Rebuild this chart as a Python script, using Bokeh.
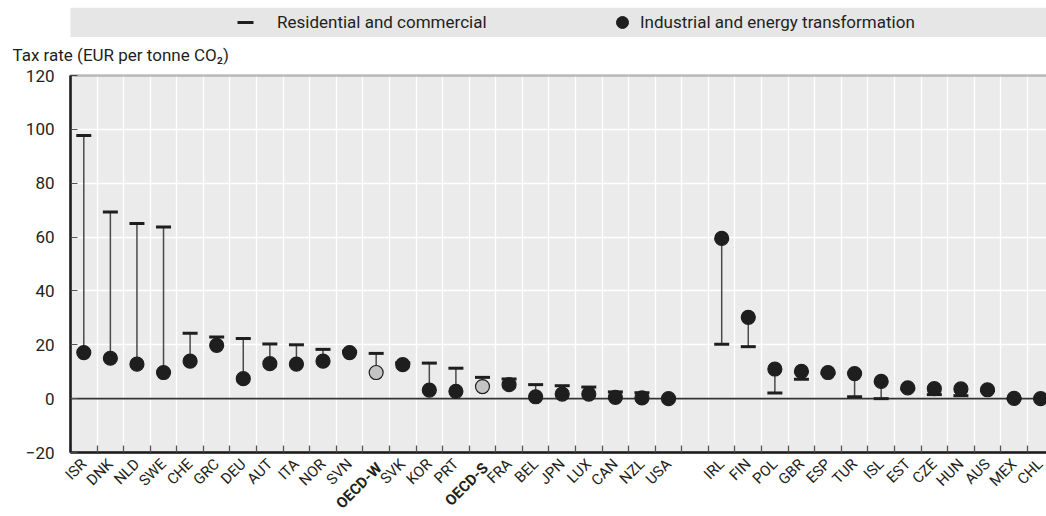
import math
from bokeh.plotting import figure
from bokeh.models import (FixedTicker, Legend, LegendItem, Range1d, ColumnDataSource,
                          BoxAnnotation)
from bokeh.core.properties import value
from bokeh.layouts import column
from bokeh.embed import file_html
from bokeh.resources import INLINE

# ---------------- data ----------------
group1 = ["ISR", "DNK", "NLD", "SWE", "CHE", "GRC", "DEU", "AUT", "ITA", "NOR", "SVN",
          "OECD-W", "SVK", "KOR", "PRT", "OECD-S", "FRA", "BEL", "JPN", "LUX", "CAN",
          "NZL", "USA"]
residential1 = [97.7, 69.3, 65.0, 63.7, 24.3, 22.9, 22.3, 20.3, 20.0, 18.3, 17.6,
                16.8, 13.3, 13.2, 11.3, 7.9, 7.3, 5.2, 4.8, 4.3, 2.5, 2.2, 0.0]
industrial1 = [17.1, 15.0, 12.8, 9.7, 13.9, 19.8, 7.4, 13.0, 12.8, 13.9, 17.1,
               9.7, 12.6, 3.2, 2.7, 4.5, 5.2, 0.7, 1.7, 1.7, 0.5, 0.25, 0.0]

group2 = ["IRL", "FIN", "POL", "GBR", "ESP", "TUR", "ISL", "EST", "CZE", "HUN", "AUS",
          "MEX", "CHL"]
residential2 = [20.2, 19.3, 2.1, 7.2, 9.4, 0.7, 0.0, 3.6, 1.5, 1.1, 3.0, 0.0, 0.0]
industrial2 = [59.5, 30.2, 11.0, 10.1, 9.7, 9.3, 6.4, 4.0, 3.7, 3.6, 3.3, 0.1, 0.0]

aggregates = ["OECD-W", "OECD-S"]
y_ticks = [-20, 0, 20, 40, 60, 80, 100, 120]
y_title = "Tax rate (EUR per tonne CO\u2082)"
legend_labels = ["Residential and commercial", "Industrial and energy transformation"]

# ---------------- styling / layout ----------------
FONT = "Roboto"
TXT = "#231f20"
DARK = "#1e1e1e"
BG = "#ebebeb"

FIG_W = 1046
LEG_H = 37          # legend strip height
MAIN_H = 478        # main figure height
MAIN_TOP = 29       # border above the frame
TOP_PAD = 9         # white pixels inside the frame above the grey area (room for "120")
PLOT_LEFT = 70      # pixel x of the grey plotting area's left edge
PLOT_PX = 377       # pixel height of the grey plotting area (y_ticks[0]..y_ticks[-1])

# positions: one empty slot between the two groups
x1 = list(range(len(group1)))
x2 = [len(group1) + 1 + i for i in range(len(group2))]
names = group1 + group2
xs = x1 + x2
res = residential1 + residential2
ind = industrial1 + industrial2
fills = ["#c4c4c4" if n in aggregates else DARK for n in names]
n_slots = len(group1) + 1 + len(group2)
boundaries = [k + 0.5 for k in range(-1, n_slots)]

src = ColumnDataSource(dict(x=xs, res=res, ind=ind, name=names, fill=fills))
src_agg = ColumnDataSource(dict(x=[x for x, n in zip(xs, names) if n in aggregates],
                                name=[n for n in names if n in aggregates]))

# ---------------- legend strip ----------------
lg = figure(width=FIG_W, height=LEG_H, output_backend="svg", toolbar_location=None,
            x_range=Range1d(0, FIG_W), y_range=Range1d(0, 1),
            x_axis_location=None, y_axis_location=None,
            min_border_left=0, min_border_right=0, min_border_top=7, min_border_bottom=0,
            background_fill_color="white", outline_line_color=None, border_fill_color="white")
lg.grid.visible = False
lg.add_layout(BoxAnnotation(left=PLOT_LEFT, fill_color="#e6e6e6", fill_alpha=1,
                            line_color=None, level="image"))
r_dash = lg.scatter(x="x", y="res", source=src, marker="dash", size=15, line_width=3,
                    line_color=DARK, visible=False)
r_dot = lg.scatter(x="x", y="ind", source=src, marker="circle", size=14, fill_color=DARK,
                   line_color=DARK, visible=False)

for item_label, rend, loc, gsize, stand in [(legend_labels[0], r_dash, (225, -5), 40, 12),
                                            (legend_labels[1], r_dot, (607, 0), 30, 3)]:
    leg = Legend(items=[LegendItem(label=item_label, renderers=[rend])],
                 location=loc, orientation="horizontal",
                 glyph_width=gsize, glyph_height=gsize, label_standoff=stand,
                 padding=0, margin=0, spacing=0,
                 background_fill_alpha=0, border_line_color=None,
                 inactive_fill_alpha=0,
                 label_text_font=FONT, label_text_font_size="17px",
                 label_text_color=TXT)
    lg.add_layout(leg)

# ---------------- main chart ----------------
# The frame spans the whole figure; the grey plotting area is a box inside it, so the
# axis labels (pinned to the box edges) are never clipped.
frame_h = MAIN_H - MAIN_TOP
px_per_unit = PLOT_PX / (y_ticks[-1] - y_ticks[0])
y_end = y_ticks[-1] + TOP_PAD / px_per_unit
y_start = y_end - frame_h / px_per_unit

x_left_edge = boundaries[0]
x_end = n_slots - 1 + 0.22
slot_px = (FIG_W - PLOT_LEFT) / (x_end - x_left_edge)
x_start = x_left_edge - PLOT_LEFT / slot_px

p = figure(width=FIG_W, height=MAIN_H, output_backend="svg", toolbar_location=None,
           title=y_title,
           x_range=Range1d(x_start, x_end), y_range=Range1d(y_start, y_end),
           min_border_left=0, min_border_right=0, min_border_top=MAIN_TOP, min_border_bottom=0,
           background_fill_color="white", outline_line_color=None, border_fill_color="white")

p.title.align = "left"
p.title.offset = 12
p.title.standoff = 3
p.title.text_font = FONT
p.title.text_font_size = "17px"
p.title.text_font_style = "normal"
p.title.text_color = TXT

# grey plotting area
p.add_layout(BoxAnnotation(left=x_left_edge, right=n_slots + 1, bottom=y_ticks[0],
                           top=y_ticks[-1], fill_color=BG, fill_alpha=1,
                           line_color=None, level="image"))

# grid (white, so invisible outside the grey area)
p.xgrid.ticker = FixedTicker(ticks=boundaries)
p.xgrid.grid_line_color = "white"
p.xgrid.grid_line_width = 1.3
p.ygrid.ticker = FixedTicker(ticks=y_ticks)
p.ygrid.grid_line_color = "white"
p.ygrid.grid_line_width = 1.3

# dark border (top, left, bottom) of the plotting area
p.add_layout(BoxAnnotation(left=x_left_edge, right=n_slots + 1, bottom=y_ticks[0],
                           top=y_ticks[-1], fill_alpha=0, line_color=DARK, line_width=2.5,
                           level="guide"))

# x axis pinned to the bottom of the grey area
ax = p.xaxis[0]
ax.fixed_location = y_ticks[0]
ax.bounds = (x_left_edge, x_end)
ax.ticker = FixedTicker(ticks=xs, minor_ticks=boundaries)
ax.major_label_overrides = {x: ("" if n in aggregates else n) for x, n in zip(xs, names)}
ax.major_label_orientation = math.pi / 4
ax.major_tick_line_color = None
ax.major_tick_out = 0
ax.major_tick_in = 0
ax.minor_tick_in = 7
ax.minor_tick_out = 0
ax.minor_tick_line_color = "#555555"
ax.minor_tick_line_width = 1.3
ax.axis_line_color = DARK
ax.axis_line_width = 2.5
ax.major_label_text_font = FONT
ax.major_label_text_font_size = "15px"
ax.major_label_text_color = TXT
ax.major_label_standoff = 9

# y axis pinned to the left edge of the grey area
ay = p.yaxis[0]
ay.fixed_location = x_left_edge
ay.bounds = (y_ticks[0], y_ticks[-1])
ay.ticker = FixedTicker(ticks=y_ticks)
ay.major_tick_in = 7
ay.major_tick_out = 0
ay.major_tick_line_color = "#555555"
ay.minor_tick_line_color = None
ay.axis_line_color = DARK
ay.axis_line_width = 2.5
ay.major_label_text_font = FONT
ay.major_label_text_font_size = "17px"
ay.major_label_text_color = TXT
ay.major_label_standoff = 16

# zero line across the plotting area
p.segment(x0=x_left_edge, y0=0, x1=x_end, y1=0, line_color="#333333", line_width=1.6)

# marks
p.segment(x0="x", y0="res", x1="x", y1="ind", source=src, line_color="#4a4a4a", line_width=1.5)
p.scatter(x="x", y="res", source=src, marker="dash", size=15, line_width=3, line_color=DARK)
p.scatter(x="x", y="ind", source=src, marker="circle", size=14, fill_color="fill",
          line_color=DARK, line_width=1.2)

# bold aggregate labels
p.text(x="x", y=y_ticks[0], x_offset=3, y_offset=13, text="name", source=src_agg,
       angle=math.pi / 4, text_align="right", text_baseline="middle",
       text_font=value(FONT), text_font_size="15px", text_font_style="bold", text_color=TXT)

layout = column(lg, p, spacing=0)
open("out.html", "w").write(file_html(layout, INLINE))
